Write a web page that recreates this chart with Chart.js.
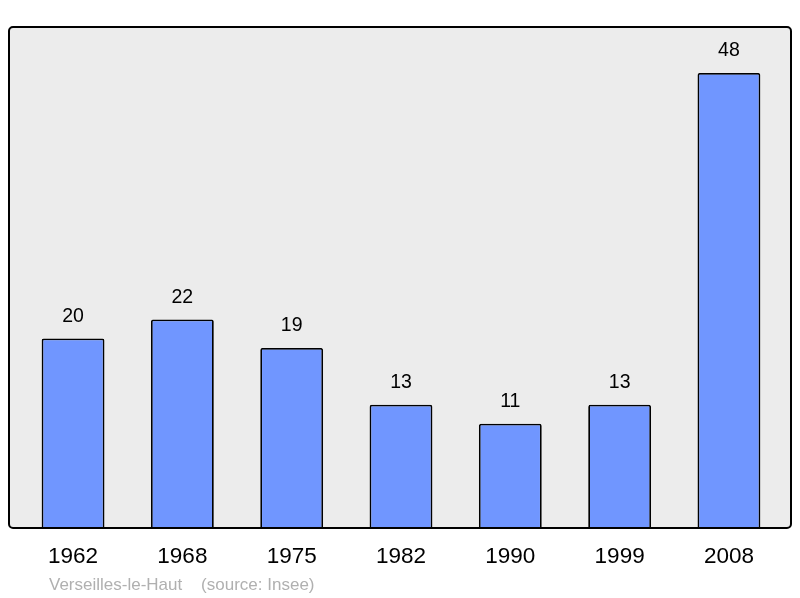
<!DOCTYPE html>
<html>
<head>
<meta charset="utf-8">
<script src="https://cdn.jsdelivr.net/npm/chart.js@4"></script>
<style>
  html, body { margin: 0; padding: 0; background: #fff; }
  canvas { display: block; }
</style>
</head>
<body>
<canvas id="chart" width="800" height="598"></canvas>
<script>
// Population by census year (Insee)
const YEARS = ['1962', '1968', '1975', '1982', '1990', '1999', '2008'];
const POPULATION = [20, 22, 19, 13, 11, 13, 48];
const Y_MAX = 52.85;

const FONT = '"Liberation Sans", Arial, sans-serif';

// plot frame, grey box with the black rounded border
const frame = {
    id: 'frame',
    beforeDraw(chart) {
        const c = chart.ctx;
        c.save();
        c.fillStyle = '#ececec';
        c.beginPath();
        c.roundRect(9, 27, 782, 501, 4);
        c.fill();
        c.restore();
    },
    afterDatasetsDraw(chart) {
        const c = chart.ctx;
        const x = chart.scales.x;
        const y = chart.scales.y;
        c.save();
        c.strokeStyle = '#000';
        c.lineWidth = 2;
        c.beginPath();
        c.roundRect(9, 27, 782, 501, 4);
        c.stroke();

        c.fillStyle = '#000';
        c.textAlign = 'center';
        c.textBaseline = 'middle';
        c.font = '19.5px ' + FONT;
        POPULATION.forEach((v, i) => {
            c.fillText(String(v), x.getPixelForValue(i), y.getPixelForValue(v) - 22);
        });
        c.font = '22.5px ' + FONT;
        YEARS.forEach((yr, i) => {
            c.fillText(yr, x.getPixelForValue(i), 557);
        });
        c.fillStyle = '#b0b0b0';
        c.textAlign = 'left';
        c.font = '17px ' + FONT;
        c.fillText('Verseilles-le-Haut    (source: Insee)', 49, 585);
        c.restore();
    },
};

new Chart(document.getElementById('chart'), {
    type: 'bar',
    data: {
        labels: YEARS,
        datasets: [{
            data: POPULATION,
            backgroundColor: '#7096ff',
            borderColor: '#000',
            borderWidth: 1.8,
            borderRadius: 2,
            borderSkipped: 'bottom',
            categoryPercentage: 1,
            barPercentage: 0.575,
        }],
    },
    options: {
        responsive: false,
        animation: false,
        layout: { padding: { left: 18.4, right: 16.4, top: 27, bottom: 70 } },
        plugins: { legend: { display: false }, tooltip: { enabled: false } },
        scales: {
            x: { display: false },
            y: { display: false, min: 0, max: Y_MAX },
        },
    },
    plugins: [frame],
});
</script>
</body>
</html>
